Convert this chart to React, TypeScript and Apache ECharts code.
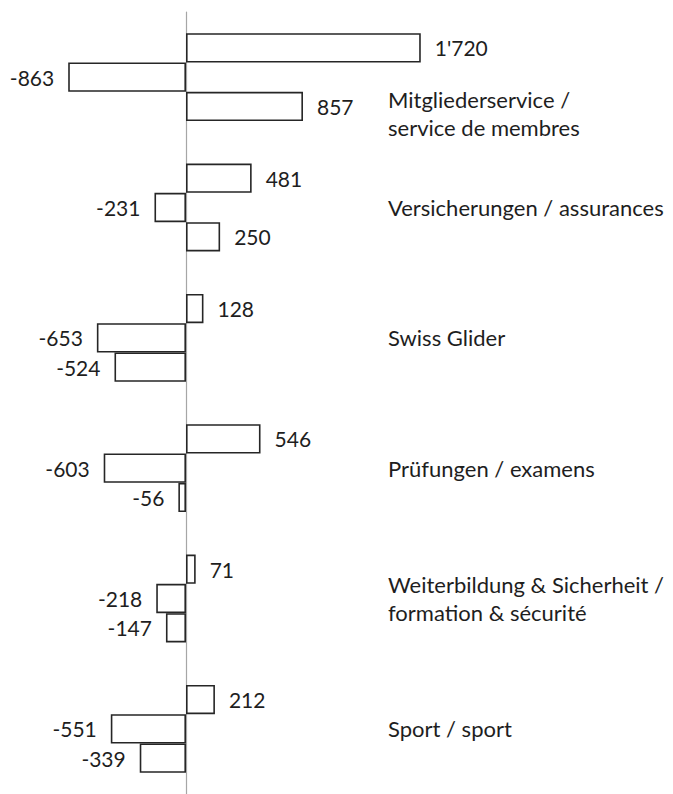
import React, { useEffect, useRef } from "react";
import * as echarts from "echarts";

const categories = [
  "Mitgliederservice /\nservice de membres",
  "Versicherungen / assurances",
  "Swiss Glider",
  "Prüfungen / examens",
  "Weiterbildung & Sicherheit /\nformation & sécurité",
  "Sport / sport",
];

const seriesTop = [1720, 481, 128, 546, 71, 212];
const seriesMiddle = [-863, -231, -653, -603, -218, -551];
const seriesBottom = [857, 250, -524, -56, -147, -339];

const FONT = "Lato, 'Open Sans', sans-serif";

function fmt(v: number): string {
  const s = String(Math.abs(v)).replace(/\B(?=(\d{3})+(?!\d))/g, "'");
  return (v < 0 ? "-" : "") + s;
}

function makeSeries(name: string, values: number[]) {
  return {
    name,
    type: "bar",
    barWidth: 29.3,
    barGap: "0%",
    data: values.map((v) => ({
      value: v,
      label: { position: v < 0 ? "left" : "right" },
    })),
    itemStyle: { color: "#ffffff", borderColor: "#262626", borderWidth: 1.6 },
    label: {
      show: true,
      distance: 14,
      fontFamily: FONT,
      fontSize: 21,
      color: "#1e1e1e",
      formatter: (p: any) => fmt(p.value),
    },
  };
}

export default function App() {
  const ref = useRef<HTMLDivElement>(null);
  useEffect(() => {
    if (!ref.current) return;
    const chart = echarts.init(ref.current, undefined, { renderer: "svg" });
    const xMin = -1000;
    const xMax = 2000;
    const pxPerUnit = 0.1365;
    const gridLeft = 186 - -xMin * pxPerUnit;
    const gridWidth = (xMax - xMin) * pxPerUnit;
    chart.setOption({
      animation: false,
      backgroundColor: "#ffffff",
      grid: { left: gridLeft, width: gridWidth, top: 12, height: 786, containLabel: false },
      xAxis: {
        type: "value",
        min: xMin,
        max: xMax,
        show: false,
      },
      yAxis: [
        {
          type: "category",
          data: categories,
          inverse: true,
          position: "left",
          axisLine: { show: true, onZero: true, lineStyle: { color: "#a6a6a6", width: 1.2 } },
          axisTick: { show: false },
          axisLabel: { show: false },
          splitLine: { show: false },
        },
        {
          type: "category",
          data: categories,
          inverse: true,
          position: "left",
          axisLine: { show: false, onZero: false },
          axisTick: { show: false },
          splitLine: { show: false },
          axisLabel: {
            show: true,
            align: "left",
            margin: -(388 - gridLeft),
            fontFamily: FONT,
            fontSize: 22,
            lineHeight: 28,
            color: "#1e1e1e",
            formatter: (value: string, index: number) => {
              if (index === 0) {
                const lines = value.split("\n").map((l) => `{t|${l}}`);
                return `{gap| }\n` + lines.join("\n");
              }
              return value;
            },
            rich: {
              gap: { lineHeight: 72, fontSize: 22, fontFamily: FONT },
              t: { lineHeight: 28, fontSize: 22, fontFamily: FONT, color: "#1e1e1e" },
            },
          },
        },
      ],
      series: [
        makeSeries("top", seriesTop),
        makeSeries("middle", seriesMiddle),
        makeSeries("bottom", seriesBottom),
      ],
    });
    return () => chart.dispose();
  }, []);
  return (
    <div
      ref={ref}
      style={{ position: "fixed", left: 0, top: 0, width: 673, height: 794, background: "#fff" }}
    />
  );
}
